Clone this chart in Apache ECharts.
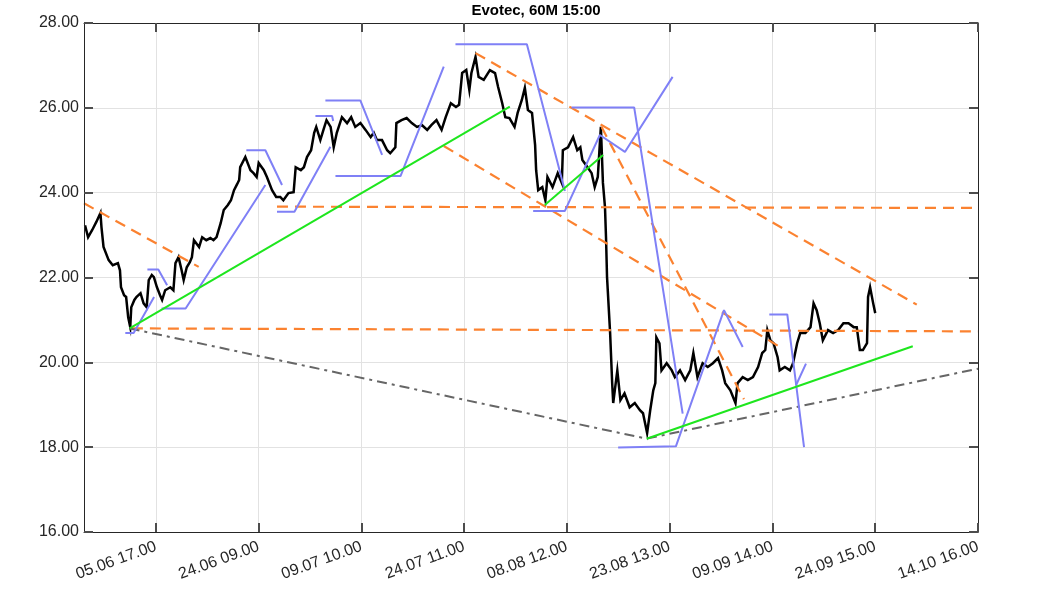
<!DOCTYPE html>
<html>
<head>
<meta charset="utf-8">
<script src="https://cdn.jsdelivr.net/npm/echarts@6/dist/echarts.min.js"></script>
<style>html,body{margin:0;padding:0;background:#fff}#main{width:1063px;height:591px}</style>
</head>
<body>
<div id="main"></div>
<script>
// ---- data (x = hourly bar index, 0 = 05.06 17:00) ----
const tickBars = [0, 100, 200, 300, 400, 500, 600, 700, 800];
const tickLabels = ["05.06 17.00", "24.06 09.00", "09.07 10.00", "24.07 11.00", "08.08 12.00", "23.08 13.00", "09.09 14.00", "24.09 15.00", "14.10 16.00"];

const priceBar = [-69,-66,-62,-58,-54,-53,-51,-46,-42,-37,-35,-34,-31,-29,-27,-25,-24,-21,-19,-15,-12,-9,-7,-4,-2,1,4,6,9,14,17,19,22,25,27,30,33,35,37,42,45,49,53,56,59,63,66,70,73,76,79,81,82,87,92,95,98,100,105,108,113,117,121,124,129,134,136,141,144,147,151,154,156,160,163,166,170,173,176,181,186,190,194,199,204,209,212,215,220,225,228,233,234,239,244,249,254,259,264,268,273,278,282,287,292,295,298,302,305,307,311,314,319,325,330,333,337,340,344,349,352,356,359,362,366,369,370,372,376,379,381,386,391,395,396,401,406,410,413,415,420,424,427,430,433,435,437,438,439,442,444,445,449,452,456,461,466,471,474,478,481,484,486,487,490,492,497,502,505,510,515,520,523,527,532,537,542,547,551,554,559,564,566,571,576,581,586,590,593,595,598,601,605,607,612,617,620,624,627,632,637,640,643,646,649,654,659,664,669,674,679,682,685,688,692,693,695,698,700];
const priceClose = [23.23,22.95,23.12,23.31,23.52,23.19,22.72,22.41,22.29,22.34,22.17,21.77,21.58,21.54,21.06,20.83,21.30,21.47,21.54,21.63,21.39,21.30,21.94,22.06,22.01,21.77,21.58,21.47,21.70,21.77,21.70,22.34,22.48,22.17,21.94,22.24,22.36,22.48,22.88,22.72,22.95,22.88,22.93,22.88,22.95,23.28,23.59,23.71,23.82,24.06,24.20,24.30,24.60,24.84,24.53,24.46,24.37,24.70,24.53,24.37,24.06,23.90,23.90,23.82,23.99,24.01,24.60,24.53,24.60,24.84,25.00,25.41,25.55,25.24,25.48,25.71,25.55,25.07,25.41,25.78,25.64,25.78,25.55,25.64,25.48,25.31,25.41,25.24,25.24,25.00,24.93,25.07,25.64,25.71,25.76,25.64,25.55,25.59,25.48,25.59,25.71,25.48,25.78,26.11,26.02,26.07,26.82,26.89,26.42,26.82,27.20,26.73,26.66,26.89,26.82,26.49,26.11,25.78,25.76,25.55,25.88,26.18,26.47,25.95,25.88,25.12,24.53,24.06,24.13,23.82,24.37,24.13,24.46,24.23,25.00,25.07,25.31,25.00,25.07,24.77,24.60,24.46,24.13,24.37,25.55,24.23,23.66,22.95,22.01,20.69,19.51,19.04,19.81,19.11,19.27,18.94,19.04,18.87,18.80,18.33,18.87,19.34,19.51,20.59,20.45,19.81,19.98,19.81,19.65,19.81,19.58,19.81,20.22,19.65,19.98,19.89,19.98,20.10,19.81,19.51,19.34,19.04,19.51,19.65,19.58,19.65,19.89,20.22,20.29,20.76,20.52,20.45,20.12,19.81,19.89,19.81,19.98,20.45,20.69,20.69,20.83,21.39,21.23,20.92,20.52,20.76,20.69,20.76,20.92,20.92,20.83,20.83,20.29,20.29,20.45,21.54,21.77,21.39,21.16];

// trend lines: [bar, price] end points
const greenLine1 = [[-25.6, 20.80], [344.4, 26.03]];
const greenLine2 = [[378.4, 23.71], [435.2, 24.89]];
const greenLine3 = [[477.5, 18.20], [736.5, 20.38]];
const grayLine = [[-25.6, 20.80], [477.5, 18.20], [800, 19.85]];
const orangeLine1 = [[-70, 23.75], [41.6, 22.25]];
const orangeLine2 = [[117.8, 23.67], [800, 23.64]];
const orangeLine3 = [[-23.4, 20.80], [800, 20.73]];
const orangeLine4 = [[311.0, 27.29], [740.4, 21.36]];
const orangeLine5 = [[280.1, 25.10], [605.4, 20.39]];
const orangeLine6 = [[433.7, 25.55], [572.2, 19.13]];
const blueLine1 = [[-29.8, 20.69], [-21.7, 20.69], [-1.8, 21.54]];
const blueLine2 = [[-8.3, 22.19], [2.3, 22.19], [10.9, 21.82]];
const blueLine3 = [[5.5, 21.27], [28.9, 21.27], [106.5, 24.18]];
const blueLine4 = [[88.0, 25.00], [106.5, 25.00], [122.7, 24.18]];
const blueLine5 = [[117.8, 23.55], [134.8, 23.55], [169.8, 25.08]];
const blueLine6 = [[155.2, 25.81], [171.4, 25.81], [172.5, 25.69]];
const blueLine7 = [[164.9, 26.17], [199.0, 26.17], [220.1, 24.89]];
const blueLine8 = [[174.7, 24.39], [238.0, 24.39], [280.1, 26.97]];
const blueLine9 = [[291.5, 27.50], [361.0, 27.50], [398.0, 24.04]];
const blueLine10 = [[367.1, 23.57], [398.0, 23.57], [432.0, 25.36], [456.4, 24.96], [502.8, 26.73]];
const blueLine11 = [[404.5, 26.01], [465.4, 26.01], [512.6, 18.79]];
const blueLine12 = [[449.8, 17.99], [506.0, 18.02], [552.8, 21.23], [571.0, 20.36]];
const blueLine13 = [[596.9, 21.13], [614.4, 21.13], [630.7, 18.00]];
const blueLine14 = [[622.9, 19.46], [632.6, 19.97]];

// ---- chart ----
const GREEN = '#1ee61e', ORANGE = '#fb8230', BLUE = '#7f80f6', GRAY = '#666666';
const FONT = 'Liberation Sans, Arial, sans-serif';
const ORANGE_DASH = [11, 7];
const GRAY_DASH = [10, 5, 3, 5];

function lineSeries(data, color, type, width) {
  return {
    type: 'line', data: data, symbol: 'none', silent: true, animation: false,
    lineStyle: { color: color, width: width || 2, type: type || 'solid' },
    z: 3
  };
}

const priceData = priceBar.map((b, i) => [b, priceClose[i]]);

const series = [
  { type: 'line', data: priceData, symbol: 'none', animation: false,
    lineStyle: { color: '#000', width: 2.5, join: 'miter' }, z: 2 },
  lineSeries(orangeLine1, ORANGE, ORANGE_DASH, 2.2),
  lineSeries(orangeLine2, ORANGE, ORANGE_DASH, 2.2),
  lineSeries(orangeLine3, ORANGE, ORANGE_DASH, 2.2),
  lineSeries(orangeLine4, ORANGE, ORANGE_DASH, 2.2),
  lineSeries(orangeLine5, ORANGE, ORANGE_DASH, 2.2),
  lineSeries(orangeLine6, ORANGE, ORANGE_DASH, 2.2),
  lineSeries(grayLine, GRAY, GRAY_DASH, 2),
  lineSeries(blueLine1, BLUE), lineSeries(blueLine2, BLUE), lineSeries(blueLine3, BLUE),
  lineSeries(blueLine4, BLUE), lineSeries(blueLine5, BLUE), lineSeries(blueLine6, BLUE),
  lineSeries(blueLine7, BLUE), lineSeries(blueLine8, BLUE), lineSeries(blueLine9, BLUE),
  lineSeries(blueLine10, BLUE), lineSeries(blueLine11, BLUE), lineSeries(blueLine12, BLUE),
  lineSeries(blueLine13, BLUE), lineSeries(blueLine14, BLUE),
  lineSeries(greenLine1, GREEN), lineSeries(greenLine2, GREEN), lineSeries(greenLine3, GREEN)
];

const axisLineStyle = { show: true, onZero: false, lineStyle: { color: '#262626', width: 1 } };
const tickStyle = { show: true, inside: true, length: 9, lineStyle: { color: '#4d4d4d', width: 2 } };
const gridLineStyle = { show: true, lineStyle: { color: '#e2e2e2', width: 1 } };

const option = {
  backgroundColor: '#fff',
  animation: false,
  title: {
    text: 'Evotec, 60M 15:00', left: 531, top: -2, textAlign: 'center',
    textStyle: { fontFamily: FONT, fontSize: 15, fontWeight: 'bold', color: '#000' }
  },
  grid: { left: 84, right: 85, top: 23, bottom: 59, containLabel: false },
  xAxis: [
    {
      type: 'value', min: -70, max: 800, position: 'bottom', z: 5,
      axisLine: axisLineStyle,
      axisTick: Object.assign({ customValues: tickBars }, tickStyle),
      axisLabel: {
        customValues: tickBars, rotate: 20, margin: 14,
        fontFamily: FONT, fontSize: 16, color: '#262626',
        formatter: v => tickLabels[tickBars.indexOf(Math.round(v))] || ''
      },
      splitLine: { show: false }
    },
    {
      type: 'value', min: -70, max: 800, position: 'top', z: 5,
      axisLine: axisLineStyle,
      axisTick: Object.assign({ customValues: tickBars }, tickStyle),
      axisLabel: { show: false },
      splitLine: { show: false }
    },
    {
      type: 'value', min: -70, max: 800, position: 'bottom', z: 0,
      axisLine: { show: false, onZero: false },
      axisTick: { show: false, customValues: tickBars },
      axisLabel: { show: false, customValues: tickBars },
      splitLine: gridLineStyle
    }
  ],
  yAxis: [
    {
      type: 'value', min: 16, max: 28, interval: 2, position: 'left', z: 5,
      axisLine: axisLineStyle,
      axisTick: tickStyle,
      axisLabel: { margin: 5, fontFamily: FONT, fontSize: 16, color: '#262626',
        formatter: v => v.toFixed(2) },
      splitLine: { show: false }
    },
    {
      type: 'value', min: 16, max: 28, interval: 2, position: 'right', z: 5,
      axisLine: axisLineStyle,
      axisTick: tickStyle,
      axisLabel: { show: false },
      splitLine: { show: false }
    },
    {
      type: 'value', min: 16, max: 28, interval: 2, position: 'left', z: 0,
      axisLine: { show: false, onZero: false },
      axisTick: { show: false },
      axisLabel: { show: false },
      splitLine: gridLineStyle
    }
  ],
  series: series
};

const chart = echarts.init(document.getElementById('main'), null, { renderer: 'canvas' });
chart.setOption(option);
</script>
</body>
</html>
